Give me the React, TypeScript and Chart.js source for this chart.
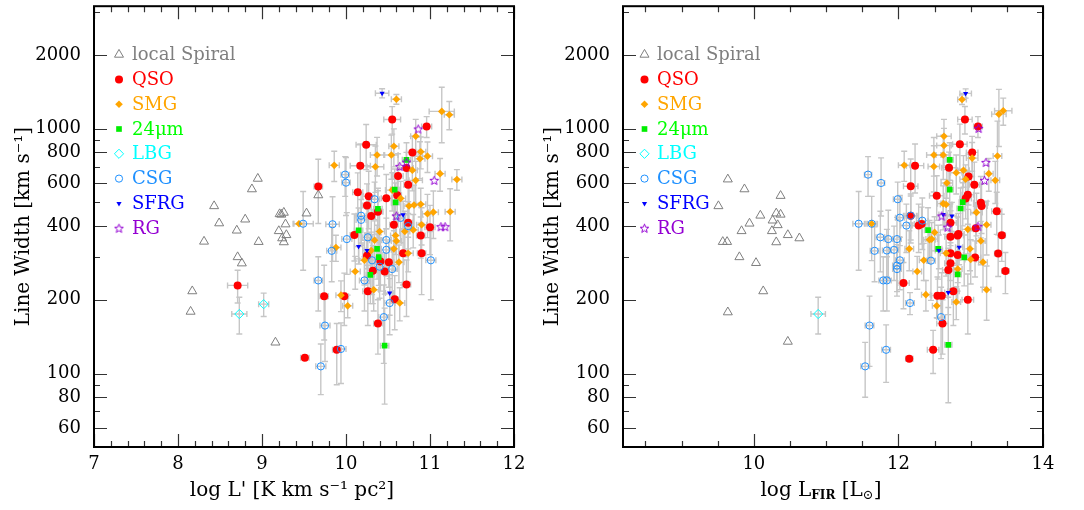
import React, { useEffect, useRef } from 'react';
import { Chart, registerables } from 'chart.js';
Chart.register(...registerables);

// ---------- data: [log L'(CO) or log L_FIR, line width km/s, x error (dex), width error (km/s)] ----------
const spiralCO: number[][] = [
  [8.95, 625], [8.88, 566], [8.43, 483], [8.49, 411], [8.80, 426], [8.70, 384], [8.31, 346], [8.96, 345],
  [9.21, 448], [9.23, 446], [9.26, 454], [9.28, 407], [9.20, 382], [9.29, 368], [9.24, 357], [9.26, 344],
  [9.53, 451], [8.71, 299], [8.76, 282], [8.17, 217], [8.15, 179], [9.16, 134], [9.67, 535],
];
const spiralFIR: number[][] = [
  [9.64, 621], [9.87, 566], [9.51, 483], [10.37, 532], [10.09, 442], [10.31, 451], [10.37, 446], [10.26, 422],
  [10.33, 404], [9.94, 410], [9.83, 382], [10.25, 382], [10.47, 368], [10.63, 357], [10.31, 344], [9.57, 345],
  [9.63, 345], [9.80, 299], [10.03, 283], [10.13, 217], [9.64, 178], [10.47, 135],
];

const qsoCO: number[][] = [
  [10.55, 1090, 0.10, 140], [10.96, 1020, 0.06, 100], [10.24, 860, 0.12, 180], [10.79, 800, 0.07, 130],
  [10.17, 705, 0.12, 160], [10.72, 690, 0.08, 110], [10.62, 640, 0.06, 150], [9.67, 580, 0.05, 170],
  [10.74, 590, 0.05, 140], [10.14, 550, 0.06, 110], [10.48, 520, 0.06, 130], [10.61, 535, 0.05, 90],
  [10.27, 530, 0.07, 140], [10.25, 485, 0.05, 110], [10.30, 440, 0.05, 90], [10.38, 458, 0.06, 100],
  [10.57, 405, 0.05, 80], [10.74, 413, 0.05, 90], [10.89, 366, 0.05, 70], [11.00, 396, 0.06, 90],
  [10.10, 368, 0.05, 80], [10.68, 310, 0.05, 80], [10.90, 310, 0.05, 100], [10.41, 287, 0.06, 70],
  [10.51, 285, 0.05, 60], [10.25, 303, 0.05, 70], [10.32, 263, 0.06, 70], [10.46, 261, 0.05, 50],
  [10.26, 217, 0.06, 60], [10.72, 231, 0.05, 60], [10.58, 201, 0.05, 50], [10.38, 160, 0.05, 40],
  [9.98, 207, 0.05, 50], [9.74, 207, 0.05, 70], [9.89, 125, 0.05, 35], [9.51, 116, 0.05, 0],
  [8.71, 229, 0.12, 35],
];
const qsoFIR: number[][] = [
  [12.92, 1091, 0.10, 140], [13.10, 1020, 0.06, 100], [12.85, 863, 0.10, 180], [13.02, 800, 0.08, 130],
  [12.23, 706, 0.12, 160], [12.70, 692, 0.10, 110], [12.97, 638, 0.08, 150], [12.17, 582, 0.10, 170],
  [13.05, 590, 0.07, 140], [12.53, 532, 0.10, 110], [12.96, 537, 0.08, 130], [12.93, 518, 0.08, 90],
  [13.14, 498, 0.10, 140], [13.15, 483, 0.08, 110], [13.36, 460, 0.07, 90], [12.17, 441, 0.10, 100],
  [12.72, 413, 0.08, 80], [12.28, 402, 0.10, 90], [12.32, 408, 0.10, 70], [13.07, 392, 0.08, 90],
  [12.83, 371, 0.08, 80], [13.43, 367, 0.05, 80], [12.72, 362, 0.08, 100], [12.82, 366, 0.08, 70],
  [13.38, 309, 0.05, 60], [12.72, 310, 0.08, 70], [12.82, 305, 0.08, 70], [13.06, 298, 0.08, 50],
  [12.72, 282, 0.08, 60], [12.69, 265, 0.08, 60], [13.48, 262, 0.05, 50], [12.07, 234, 0.08, 50],
  [12.76, 217, 0.08, 60], [12.96, 200, 0.08, 55], [12.54, 208, 0.08, 40], [12.60, 208, 0.08, 50],
  [12.61, 160, 0.08, 40], [12.48, 125, 0.08, 25], [12.15, 115, 0.05, 0],
];

const smgCO: number[][] = [
  [10.60, 1318, 0.06, 60], [11.14, 1176, 0.15, 300], [11.23, 1140, 0.06, 150], [10.83, 931, 0.06, 160],
  [10.57, 848, 0.06, 150], [10.37, 781, 0.08, 140], [10.54, 781, 0.08, 160], [10.89, 805, 0.06, 120],
  [10.97, 772, 0.06, 110], [10.88, 754, 0.06, 130], [9.86, 708, 0.06, 100], [10.35, 699, 0.10, 150],
  [10.79, 677, 0.06, 120], [11.12, 655, 0.06, 100], [10.83, 615, 0.08, 120], [11.32, 620, 0.06, 60],
  [10.55, 561, 0.08, 100], [10.65, 519, 0.06, 90], [10.75, 483, 0.06, 90], [10.81, 488, 0.06, 100],
  [10.89, 491, 0.06, 80], [10.97, 449, 0.06, 90], [11.04, 456, 0.06, 100], [11.24, 458, 0.06, 110],
  [9.44, 409, 0.06, 0], [10.90, 405, 0.06, 70], [10.80, 386, 0.06, 60], [10.70, 380, 0.06, 80],
  [10.40, 380, 0.06, 70], [10.59, 366, 0.06, 60], [10.60, 348, 0.06, 70], [10.34, 350, 0.06, 70],
  [10.30, 318, 0.06, 60], [9.88, 327, 0.06, 40], [10.57, 323, 0.06, 60], [10.74, 310, 0.06, 50],
  [10.22, 290, 0.06, 60], [10.63, 285, 0.06, 50], [10.11, 261, 0.06, 40], [10.33, 220, 0.06, 40],
  [10.64, 194, 0.06, 30], [9.94, 209, 0.06, 30], [10.02, 189, 0.06, 20],
];
const smgFIR: number[][] = [
  [12.88, 1315, 0.06, 60], [13.39, 1146, 0.10, 300], [13.45, 1183, 0.12, 150], [12.63, 931, 0.10, 160],
  [12.63, 853, 0.10, 150], [12.49, 780, 0.10, 140], [12.62, 780, 0.10, 160], [13.02, 758, 0.08, 120],
  [13.37, 773, 0.06, 300], [12.08, 709, 0.08, 100], [12.49, 701, 0.08, 150], [12.80, 661, 0.08, 120],
  [12.90, 676, 0.08, 100], [13.25, 655, 0.06, 100], [13.34, 615, 0.06, 120], [12.67, 600, 0.08, 80],
  [12.93, 621, 0.08, 90], [12.62, 494, 0.08, 90], [12.66, 490, 0.08, 100], [13.08, 455, 0.08, 90],
  [13.22, 405, 0.06, 100], [11.63, 409, 0.06, 0], [12.96, 388, 0.08, 80], [12.50, 377, 0.08, 60],
  [12.43, 352, 0.08, 70], [12.46, 354, 0.08, 60], [12.15, 323, 0.06, 60], [12.99, 323, 0.08, 60],
  [13.14, 348, 0.06, 70], [12.35, 290, 0.06, 50], [12.26, 261, 0.06, 40], [13.17, 285, 0.06, 60],
  [12.82, 267, 0.06, 50], [12.38, 210, 0.06, 30], [12.53, 189, 0.06, 20], [12.80, 196, 0.06, 30],
  [13.22, 220, 0.06, 55], [12.66, 310, 0.08, 60], [13.00, 292, 0.08, 60],
];

const irCO: number[][] = [
  [10.72, 746, 0.05, 130], [10.58, 564, 0.05, 120], [10.59, 500, 0.05, 100], [10.38, 471, 0.05, 100],
  [10.15, 384, 0.05, 90], [10.37, 323, 0.05, 80], [10.39, 299, 0.05, 70], [10.29, 253, 0.05, 60],
  [10.46, 130, 0.05, 55],
];
const irFIR: number[][] = [
  [12.71, 746, 0.05, 130], [12.71, 564, 0.05, 120], [12.89, 501, 0.05, 100], [12.86, 472, 0.05, 100],
  [12.41, 385, 0.05, 90], [12.55, 323, 0.05, 80], [12.91, 298, 0.05, 70], [12.82, 254, 0.05, 60],
  [12.69, 131, 0.05, 55],
];

const lbgCO: number[][] = [[8.73, 175, 0.09, 30], [9.02, 192, 0.06, 21]];
const lbgFIR: number[][] = [[10.89, 175, 0.10, 30]];

const csgCO: number[][] = [
  [9.99, 649, 0.05, 120], [10.00, 602, 0.05, 160], [10.34, 515, 0.06, 90], [10.18, 441, 0.06, 100],
  [10.18, 424, 0.06, 90], [9.49, 409, 0.12, 145], [9.84, 407, 0.08, 120], [10.65, 432, 0.06, 90],
  [10.74, 400, 0.06, 90], [10.01, 354, 0.06, 100], [10.26, 360, 0.06, 110], [10.48, 351, 0.06, 80],
  [9.83, 317, 0.06, 80], [10.48, 320, 0.06, 70], [10.31, 290, 0.06, 80], [10.40, 273, 0.06, 70],
  [10.55, 267, 0.06, 60], [11.01, 290, 0.06, 90], [10.22, 240, 0.06, 60], [9.67, 240, 0.05, 60],
  [10.52, 194, 0.06, 50], [10.45, 170, 0.06, 60], [9.75, 157, 0.06, 45], [9.94, 126, 0.06, 35],
  [9.70, 107, 0.06, 25],
];
const csgFIR: number[][] = [
  [11.58, 649, 0.05, 120], [11.76, 600, 0.05, 160], [11.99, 515, 0.06, 90], [12.02, 433, 0.06, 100],
  [12.11, 402, 0.08, 90], [12.33, 421, 0.08, 100], [11.45, 409, 0.08, 145], [11.63, 409, 0.08, 120],
  [12.17, 441, 0.08, 90], [11.75, 360, 0.06, 100], [11.86, 354, 0.06, 110], [11.98, 354, 0.06, 80],
  [11.67, 317, 0.06, 80], [11.84, 318, 0.06, 70], [11.94, 320, 0.06, 80], [12.02, 290, 0.06, 70],
  [11.98, 276, 0.06, 60], [11.98, 267, 0.06, 60], [12.45, 289, 0.06, 90], [11.79, 240, 0.06, 60],
  [11.84, 240, 0.06, 60], [12.16, 194, 0.06, 20], [12.59, 170, 0.06, 55], [11.60, 157, 0.06, 50],
  [11.83, 125, 0.06, 33], [11.54, 107, 0.06, 27],
];

const sfrgCO: number[][] = [[10.43, 1395, 0.08, 60], [10.68, 445, 0.06, 60], [10.15, 330, 0.05, 50], [10.25, 318, 0.05, 50], [10.52, 213, 0.05, 40]];
const sfrgFIR: number[][] = [[12.93, 1393, 0.08, 60], [12.62, 446, 0.06, 60], [12.74, 440, 0.06, 60], [12.56, 318, 0.05, 50], [12.84, 328, 0.05, 50], [12.69, 214, 0.05, 40]];

const rgCO: number[][] = [[10.86, 997], [10.64, 701], [10.72, 730], [11.05, 615], [10.60, 440], [11.13, 398], [11.18, 398]];
const rgFIR: number[][] = [[13.11, 1003], [13.21, 728], [13.19, 615], [12.60, 440], [12.68, 396], [13.10, 399]];

// ---------- axis ticks ----------
const yLabelTicks = [60, 80, 100, 200, 400, 600, 800, 1000, 2000];
const yMinorTicks = [70, 90, 300, 500, 700, 900, 3000];
const xLabelTicksCO = [7, 8, 9, 10, 11, 12];
const xLabelTicksFIR = [10, 12, 14];
const Y_MIN = 50.12;
const Y_MAX = 3162.3;

// ---------- styles ----------
const SERIES = [
  { label: 'local Spiral', color: '#7f7f7f', shape: 'triangle', r: 5.2, fill: false, co: spiralCO, fir: spiralFIR },
  { label: 'QSO', color: '#ff0000', shape: 'circle', r: 4, fill: true, co: qsoCO, fir: qsoFIR },
  { label: 'SMG', color: '#ffa500', shape: 'rectRot', r: 3.8, fill: true, co: smgCO, fir: smgFIR },
  { label: '24μm', color: '#00ee00', shape: 'rect', r: 4, fill: true, co: irCO, fir: irFIR },
  { label: 'LBG', color: '#00ffff', shape: 'rectRot', r: 4.6, fill: false, co: lbgCO, fir: lbgFIR },
  { label: 'CSG', color: '#1e90ff', shape: 'circle', r: 3.6, fill: false, co: csgCO, fir: csgFIR },
  { label: 'SFRG', color: '#0000ff', shape: 'triangleDown', r: 3, fill: true, co: sfrgCO, fir: sfrgFIR },
  { label: 'RG', color: '#9400d3', shape: 'star', r: 4, fill: false, co: rgCO, fir: rgFIR },
];

const FONT = "'DejaVu Serif', serif";

function makeStar(color: string): HTMLCanvasElement {
  const c = document.createElement('canvas');
  c.width = 11; c.height = 11;
  const g = c.getContext('2d')!;
  g.strokeStyle = color; g.lineWidth = 1;
  g.beginPath();
  for (let k = 0; k < 10; k++) {
    const rr = k % 2 === 0 ? 4.6 : 2.0;
    const ang = -Math.PI / 2 + (k * Math.PI) / 5;
    const px = 5.5 + rr * Math.cos(ang), py = 5.9 + rr * Math.sin(ang);
    if (k) g.lineTo(px, py); else g.moveTo(px, py);
  }
  g.closePath(); g.stroke();
  return c;
}

function drawMarker(ctx: CanvasRenderingContext2D, s: any, x: number, y: number, star: HTMLCanvasElement) {
  ctx.save();
  ctx.fillStyle = s.color; ctx.strokeStyle = s.color; ctx.lineWidth = 1;
  const r = s.r;
  if (s.shape === 'star') { ctx.drawImage(star, x - star.width / 2, y - star.height / 2); ctx.restore(); return; }
  ctx.beginPath();
  if (s.shape === 'circle') ctx.arc(x, y, r, 0, Math.PI * 2);
  else if (s.shape === 'rectRot') { ctx.moveTo(x, y - r); ctx.lineTo(x + r, y); ctx.lineTo(x, y + r); ctx.lineTo(x - r, y); ctx.closePath(); }
  else if (s.shape === 'rect') { const h = r * Math.SQRT1_2; ctx.rect(x - h, y - h, 2 * h, 2 * h); }
  else {
    const sgn = s.shape === 'triangle' ? 1 : -1;
    for (let k = 0; k < 3; k++) {
      const a = (k * 2 * Math.PI) / 3;
      const px = x + Math.sin(a) * r, py = y - sgn * Math.cos(a) * r;
      if (k) ctx.lineTo(px, py); else ctx.moveTo(px, py);
    }
    ctx.closePath();
  }
  if (s.fill) ctx.fill(); else ctx.stroke();
  ctx.restore();
}

const errPlugin = {
  id: 'errbars',
  beforeDatasetsDraw(chart: any) {
    const { ctx, chartArea: a } = chart;
    const xs = chart.scales.x, ys = chart.scales.y;
    ctx.save();
    ctx.beginPath(); ctx.rect(a.left, a.top, a.right - a.left, a.bottom - a.top); ctx.clip();
    ctx.strokeStyle = '#c6c6c6'; ctx.lineWidth = 1.4;
    chart.data.datasets.forEach((ds: any) => {
      ds.data.forEach((p: any) => {
        const px = xs.getPixelForValue(p.x), py = ys.getPixelForValue(p.y);
        ctx.beginPath();
        if (p.xe > 0) {
          const x1 = xs.getPixelForValue(p.x - p.xe), x2 = xs.getPixelForValue(p.x + p.xe);
          ctx.moveTo(x1, py); ctx.lineTo(x2, py);
          ctx.moveTo(x1, py - 3); ctx.lineTo(x1, py + 3);
          ctx.moveTo(x2, py - 3); ctx.lineTo(x2, py + 3);
        }
        if (p.ye > 0) {
          const y1 = ys.getPixelForValue(p.y + p.ye), y2 = ys.getPixelForValue(Math.max(p.y - p.ye, 1));
          ctx.moveTo(px, y1); ctx.lineTo(px, y2);
          ctx.moveTo(px - 3, y1); ctx.lineTo(px + 3, y1);
          ctx.moveTo(px - 3, y2); ctx.lineTo(px + 3, y2);
        }
        ctx.stroke();
      });
    });
    ctx.restore();
  },
};

const framePlugin = {
  id: 'frame',
  afterDatasetsDraw(chart: any, _args: any, opts: any) {
    const { ctx, chartArea: a } = chart;
    const xs = chart.scales.x, ys = chart.scales.y;
    ctx.save();
    ctx.strokeStyle = '#333'; ctx.lineWidth = 1.2;
    ctx.beginPath();
    const xt = (vals: number[], len: number) => vals.forEach((v) => {
      const px = Math.round(xs.getPixelForValue(v)) + 0.5;
      ctx.moveTo(px, a.bottom); ctx.lineTo(px, a.bottom - len);
      ctx.moveTo(px, a.top); ctx.lineTo(px, a.top + len);
    });
    const yt = (vals: number[], len: number) => vals.forEach((v) => {
      const py = Math.round(ys.getPixelForValue(v)) + 0.5;
      ctx.moveTo(a.left, py); ctx.lineTo(a.left + len, py);
      ctx.moveTo(a.right, py); ctx.lineTo(a.right - len, py);
    });
    xt(opts.xMajor, 13); xt(opts.xMinor, 6);
    yt(yLabelTicks, 13); yt(yMinorTicks, 6);
    ctx.stroke();
    ctx.strokeStyle = '#000'; ctx.lineWidth = 2;
    ctx.strokeRect(a.left, a.top, a.right - a.left, a.bottom - a.top);
    ctx.restore();
  },
};

const keyPlugin = {
  id: 'key',
  afterDraw(chart: any, _args: any, opts: any) {
    const { ctx, chartArea: a } = chart;
    ctx.save();
    ctx.font = `18px ${FONT}`;
    ctx.textBaseline = 'middle';
    ctx.textAlign = 'left';
    SERIES.forEach((s, i) => {
      const y = a.top + 48.4 + i * 24.8;
      drawMarker(ctx, s, a.left + opts.mx, y, opts.star);
      ctx.fillStyle = s.color === '#00ee00' ? '#00ff00' : s.color;
      ctx.fillText(s.label, a.left + opts.tx, y + 1);
    });
    ctx.restore();
  },
};

const titlePlugin = {
  id: 'titles',
  afterDraw(chart: any, _args: any, opts: any) {
    const { ctx, chartArea: a } = chart;
    ctx.save();
    ctx.fillStyle = '#000';
    ctx.textBaseline = 'middle';
    ctx.save();
    ctx.translate(a.left - 70, (a.top + a.bottom) / 2);
    ctx.rotate(-Math.PI / 2);
    ctx.textAlign = 'center';
    ctx.font = `20px ${FONT}`;
    ctx.fillText('Line Width [km s⁻¹]', 0, 0);
    ctx.restore();
    const segs: any[] = opts.segs;
    ctx.textAlign = 'left';
    let total = 0;
    segs.forEach((s) => { ctx.font = `${s[3] ? 'bold ' : ''}${s[1]}px ${FONT}`; total += ctx.measureText(s[0]).width; });
    let x = (a.left + a.right) / 2 - 12 - total / 2;
    segs.forEach((s) => {
      ctx.font = `${s[3] ? 'bold ' : ''}${s[1]}px ${FONT}`;
      ctx.fillText(s[0], x, 491 + s[2]);
      x += ctx.measureText(s[0]).width;
    });
    ctx.restore();
  },
};

function buildConfig(panel: 'co' | 'fir', star: HTMLCanvasElement): any {
  const isCO = panel === 'co';
  const xMinor: number[] = [];
  if (isCO) { for (let v = 7.2; v < 12; v += 0.2) { const r = Math.round(v * 10) / 10; if (Math.abs(r - Math.round(r)) > 0.01) xMinor.push(r); } }
  else { for (let v = 8.5; v < 14; v += 1) xMinor.push(v, v + 0.5); }
  const xMajorTicks = isCO ? xLabelTicksCO : xLabelTicksFIR;
  const xMinorList = isCO ? xMinor : xMinor.filter((v) => !xMajorTicks.includes(v) && v < 14);
  return {
    type: 'scatter',
    data: {
      datasets: SERIES.map((s, i) => ({
        label: s.label,
        data: (isCO ? s.co : s.fir).map((p) => ({ x: p[0], y: p[1], xe: p[2] || 0, ye: p[3] || 0 })),
        pointStyle: s.shape === 'star' ? star : s.shape === 'triangleDown' ? 'triangle' : s.shape,
        pointRotation: s.shape === 'triangleDown' ? 180 : 0,
        pointRadius: s.r,
        pointBackgroundColor: s.fill ? s.color : 'rgba(0,0,0,0)',
        pointBorderColor: s.color,
        pointBorderWidth: s.fill ? 0 : 1,
        showLine: false,
        order: SERIES.length - i,
      })),
    },
    options: {
      responsive: false,
      animation: false,
      events: [],
      devicePixelRatio: 1,
      layout: { padding: { left: 0, right: isCO ? 26 : 41, top: 3, bottom: 0 } },
      scales: {
        x: {
          type: 'linear',
          min: isCO ? 7 : 8.19,
          max: isCO ? 12 : 14,
          afterFit: (s: any) => { s.height = 63; s.paddingLeft = 0; s.paddingRight = 0; },
          afterBuildTicks: (s: any) => { s.ticks = xMajorTicks.map((v) => ({ value: v })); },
          ticks: { autoSkip: false, maxRotation: 0, padding: 7, color: '#000', font: { family: FONT, size: 18 }, callback: (v: any) => String(v) },
          grid: { display: false, drawTicks: false },
          border: { display: false },
        },
        y: {
          type: 'logarithmic',
          min: Y_MIN,
          max: Y_MAX,
          afterFit: (s: any) => { s.width = isCO ? 94 : 83; s.paddingTop = 0; s.paddingBottom = 0; },
          afterBuildTicks: (s: any) => { s.ticks = yLabelTicks.map((v) => ({ value: v })); },
          ticks: { autoSkip: false, padding: 13, color: '#000', font: { family: FONT, size: 18 }, callback: (v: any) => String(v) },
          grid: { display: false, drawTicks: false },
          border: { display: false },
        },
      },
      plugins: {
        legend: { display: false },
        tooltip: { enabled: false },
        frame: { xMajor: xMajorTicks, xMinor: xMinorList },
        key: { mx: isCO ? 25 : 21.5, tx: isCO ? 38 : 34, star },
        titles: {
          segs: isCO
            ? [["log L' [K km s⁻¹ pc²]", 20, 0, false]]
            : [['log L', 20, 0, false], ['FIR', 12, 5, true], [' [L', 20, 0, false], ['⊙', 13, 5, false], [']', 20, 0, false]],
        },
      },
    },
    plugins: [errPlugin, framePlugin, keyPlugin, titlePlugin],
  };
}

export default function App() {
  const leftRef = useRef<HTMLCanvasElement>(null);
  const rightRef = useRef<HTMLCanvasElement>(null);
  useEffect(() => {
    const star = makeStar('#9400d3');
    const c1 = new Chart(leftRef.current!, buildConfig('co', star));
    const c2 = new Chart(rightRef.current!, buildConfig('fir', star));
    return () => { c1.destroy(); c2.destroy(); };
  }, []);
  return (
    <div style={{ position: 'fixed', left: 0, top: 0, width: 1084, height: 510, background: '#fff' }}>
      <canvas ref={leftRef} width={540} height={510} style={{ position: 'absolute', left: 0, top: 0 }} />
      <canvas ref={rightRef} width={544} height={510} style={{ position: 'absolute', left: 540, top: 0 }} />
    </div>
  );
}
